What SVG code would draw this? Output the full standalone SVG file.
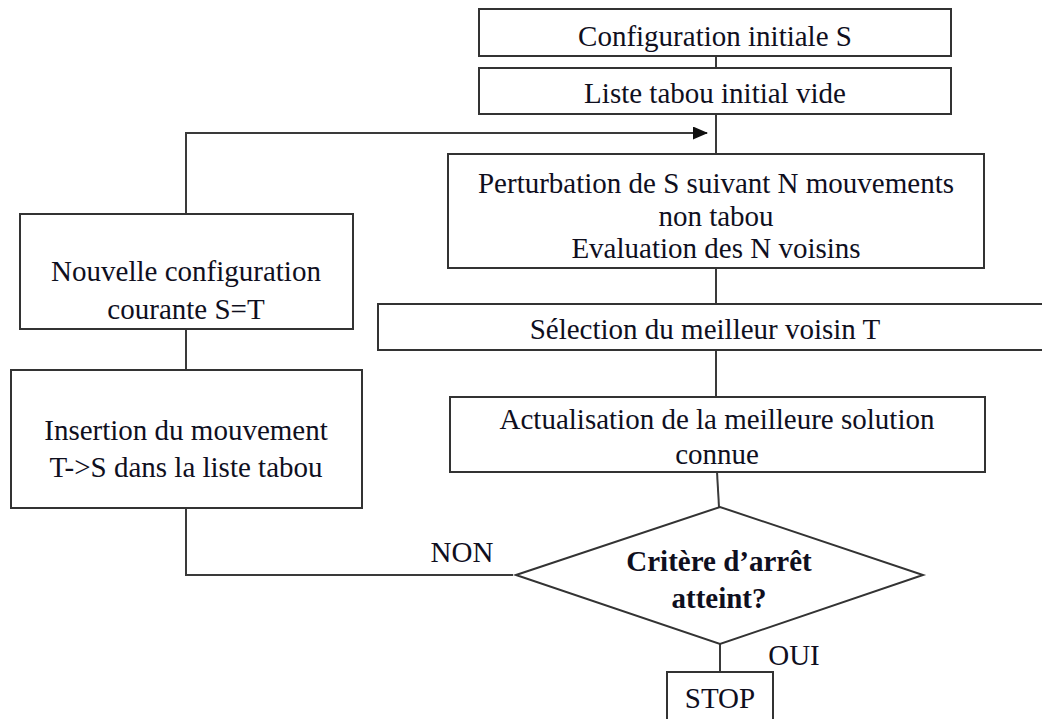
<svg xmlns="http://www.w3.org/2000/svg" width="1042" height="719" viewBox="0 0 1042 719">
  <style>
    .box { fill: #ffffff; stroke: #333333; stroke-width: 2; }
    .line { fill: none; stroke: #3a3a3a; stroke-width: 2; }
    .t { font-family: "Liberation Serif", "Times New Roman", serif; font-size: 29px; fill: #0f0f1e; text-anchor: middle; }
    .b { font-weight: bold; }
  </style>
  <defs>
    <marker id="arrow" markerWidth="15" markerHeight="13" refX="14" refY="6.5" orient="auto" markerUnits="userSpaceOnUse">
      <path d="M0,0 L15,6.5 L0,13 Z" fill="#111111"/>
    </marker>
  </defs>
  <rect width="1042" height="719" fill="#ffffff"/>

  <!-- connectors -->
  <g id="connectors">
    <line class="line" x1="716" y1="56" x2="716" y2="68"/>
    <line class="line" x1="716" y1="114" x2="716" y2="154"/>
    <line class="line" x1="716" y1="268" x2="716" y2="304"/>
    <line class="line" x1="716" y1="350" x2="716" y2="397"/>
    <line class="line" x1="717" y1="472" x2="719" y2="507"/>
    <line class="line" x1="720" y1="644" x2="720" y2="672"/>
    <!-- NON branch back to the loop -->
    <polyline class="line" points="513,575 186,575 186,508"/>
    <line class="line" x1="186" y1="370" x2="186" y2="329"/>
    <polyline class="line" points="186,214 186,133 707,133" marker-end="url(#arrow)"/>
  </g>

  <g id="n-config-initiale">
    <rect class="box" x="479" y="9" width="472" height="47"/>
    <text class="t" x="715" y="46">Configuration initiale S</text>
  </g>

  <g id="n-liste-tabou">
    <rect class="box" x="479" y="68" width="472" height="46"/>
    <text class="t" x="715" y="103">Liste tabou initial vide</text>
  </g>

  <g id="n-perturbation">
    <rect class="box" x="448" y="154" width="536" height="114"/>
    <text class="t" x="716" y="193">Perturbation de S suivant N mouvements</text>
    <text class="t" x="716" y="226">non tabou</text>
    <text class="t" x="716" y="258">Evaluation des N voisins</text>
  </g>

  <g id="n-selection">
    <rect class="box" x="378" y="304" width="680" height="46"/>
    <text class="t" x="705" y="339">Sélection du meilleur voisin T</text>
  </g>

  <g id="n-actualisation">
    <rect class="box" x="450" y="397" width="535" height="75"/>
    <text class="t" x="717" y="429">Actualisation de la meilleure solution</text>
    <text class="t" x="717" y="464">connue</text>
  </g>

  <g id="n-nouvelle-config">
    <rect class="box" x="20" y="214" width="333" height="115"/>
    <text class="t" x="186" y="281">Nouvelle configuration</text>
    <text class="t" x="186" y="319">courante S=T</text>
  </g>

  <g id="n-insertion">
    <rect class="box" x="11" y="370" width="351" height="138"/>
    <text class="t" x="186" y="440">Insertion du mouvement</text>
    <text class="t" x="186" y="477">T-&gt;S dans la liste tabou</text>
  </g>

  <g id="n-critere">
    <polygon class="box" points="516,575 720,507 923,575 720,644"/>
    <text class="t b" x="719" y="571">Critère d’arrêt</text>
    <text class="t b" x="719" y="608">atteint?</text>
  </g>

  <g id="n-stop">
    <rect class="box" x="667" y="672" width="106" height="52"/>
    <text class="t" x="720" y="708">STOP</text>
  </g>

  <g id="labels">
    <text class="t" x="462" y="562">NON</text>
    <text class="t" x="794" y="665">OUI</text>
  </g>
</svg>
